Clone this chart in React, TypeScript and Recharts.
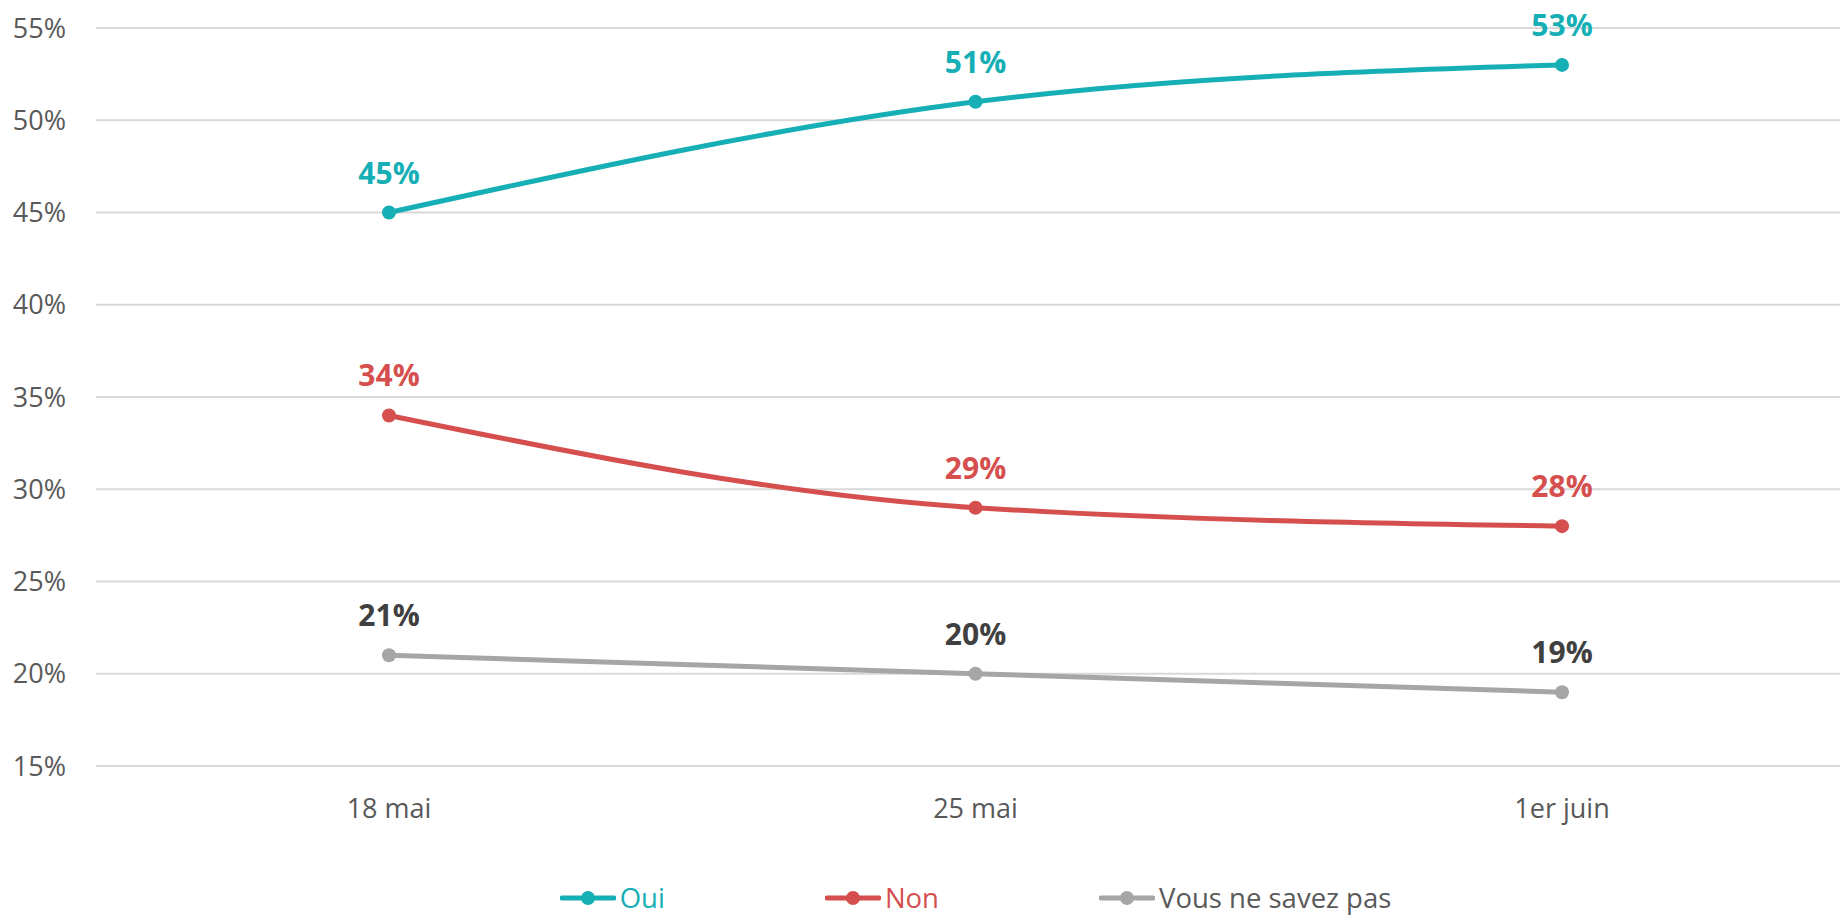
import React from 'react';
import { LineChart, Line, XAxis, YAxis, CartesianGrid, Legend, LabelList } from 'recharts';

const categories = ['18 mai', '25 mai', '1er juin'];
const oui = [45, 51, 53];
const non = [34, 29, 28];
const nsp = [21, 20, 19];
const yTicks = [15, 20, 25, 30, 35, 40, 45, 50, 55];

const data = categories.map((c, i) => ({ cat: c, oui: oui[i], non: non[i], nsp: nsp[i] }));

const series = [
  { key: 'oui', name: 'Oui', color: '#16AFB5', labelColor: '#16AFB5', textColor: '#16AFB5' },
  { key: 'non', name: 'Non', color: '#D64F4F', labelColor: '#D64F4F', textColor: '#D64F4F' },
  { key: 'nsp', name: 'Vous ne savez pas', color: '#A6A6A6', labelColor: '#404040', textColor: '#595959' },
];

const FONT = '"Open Sans", sans-serif';

const makeLabel = (color: string) => (props: any) => {
  const { x, y, value } = props;
  return (
    <text x={x} y={y - 29} textAnchor="middle" fill={color} fontFamily={FONT} fontWeight={700} fontSize={30}>
      {`${value}%`}
    </text>
  );
};

const LegendContent = () => (
  <div
    style={{
      height: 91,
      paddingLeft: 96,
      boxSizing: 'border-box',
      display: 'flex',
      justifyContent: 'center',
      alignItems: 'flex-end',
      fontFamily: FONT,
    }}
  >
    <div style={{ display: 'flex', gap: 160, alignItems: 'center', height: 30, marginBottom: 4 }}>
      {series.map((s) => (
        <div key={s.key} style={{ display: 'flex', alignItems: 'center' }}>
          <svg width={56} height={16} style={{ display: 'block' }}>
            <line x1={2} y1={8} x2={54} y2={8} stroke={s.color} strokeWidth={5} strokeLinecap="round" />
            <circle cx={28} cy={8} r={7} fill={s.color} />
          </svg>
          <span style={{ color: s.textColor, fontSize: 27.5, marginLeft: 4, lineHeight: '26px' }}>{s.name}</span>
        </div>
      ))}
    </div>
  </div>
);

export default function App() {
  return (
    <div style={{ position: 'absolute', left: 0, top: 0, width: 1840, height: 917, overflow: 'hidden', background: '#fff' }}>
      <LineChart width={1951} height={917} data={data} margin={{ top: 28, right: 96, bottom: 0, left: 0 }}>
        <CartesianGrid vertical={false} stroke="#D9D9D9" strokeWidth={2} />
        <XAxis
          dataKey="cat"
          axisLine={false}
          tickLine={false}
          tickSize={0}
          tickMargin={33}
          height={60}
          padding={{ left: 293, right: 293 }}
          tick={{ fill: '#595959', fontSize: 27, fontFamily: FONT }}
        />
        <YAxis
          domain={[15, 55]}
          ticks={yTicks}
          width={96}
          axisLine={false}
          tickLine={false}
          tickSize={0}
          tickMargin={30}
          tickFormatter={(v: number) => `${v}%`}
          tick={{ fill: '#595959', fontSize: 27, fontFamily: FONT }}
          interval={0}
        />
        <Legend verticalAlign="bottom" height={91} content={<LegendContent />} />
        {series.map((s) => (
          <Line
            key={s.key}
            type="monotone"
            dataKey={s.key}
            name={s.name}
            stroke={s.color}
            strokeWidth={5}
            dot={{ r: 7, fill: s.color, stroke: s.color, strokeWidth: 0 }}
            activeDot={false}
            isAnimationActive={false}
          >
            <LabelList dataKey={s.key} content={makeLabel(s.labelColor)} />
          </Line>
        ))}
      </LineChart>
    </div>
  );
}
